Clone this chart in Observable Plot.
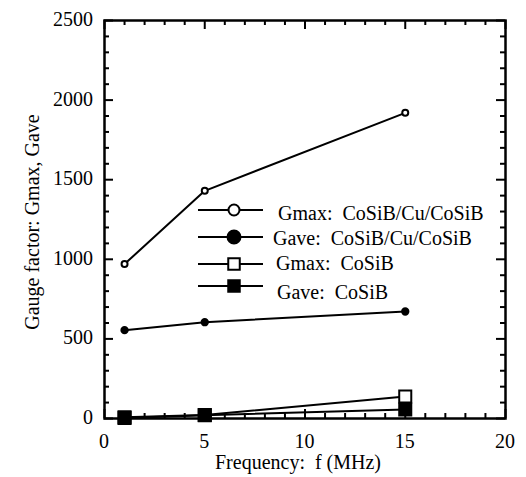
<!DOCTYPE html>
<html>
<head>
<meta charset="utf-8">
<script src="https://cdn.jsdelivr.net/npm/d3@7"></script>
<script src="https://cdn.jsdelivr.net/npm/@observablehq/plot@0.6"></script>
<style>
  html, body { margin: 0; padding: 0; background: #fff; }
  svg text { font-family: "Liberation Serif" !important; }
</style>
</head>
<body>
<div id="wrap"></div>
<script>
// ---- data ----
const frequency = [1, 5, 15];
const gmaxCoSiBCuCoSiB = [970, 1430, 1920];
const gaveCoSiBCuCoSiB = [555, 605, 672];
const gmaxCoSiB = [8, 22, 138];
const gaveCoSiB = [3, 20, 57];

const seriesNames = [
  "Gmax:  CoSiB/Cu/CoSiB",
  "Gave:  CoSiB/Cu/CoSiB",
  "Gmax:  CoSiB",
  "Gave:  CoSiB"
];
const seriesValues = [gmaxCoSiBCuCoSiB, gaveCoSiBCuCoSiB, gmaxCoSiB, gaveCoSiB];
const seriesSymbol = ["circle", "circle", "square", "square"];
const seriesFilled = [false, true, false, true];

const xTicks = [0, 5, 10, 15, 20];
const yTicks = [0, 500, 1000, 1500, 2000, 2500];
const xMinor = d3.range(0, 21, 1).filter(d => d % 5 !== 0);
const yMinor = d3.range(0, 2501, 100).filter(d => d % 500 !== 0);

const xTitle = "Frequency:  f (MHz)";
const yTitle = "Gauge factor: Gmax, Gave";

// build tidy table
const rows = [];
seriesNames.forEach((name, i) => {
  frequency.forEach((f, j) => rows.push({
    series: name, f, g: seriesValues[i][j],
    symbol: seriesSymbol[i], filled: seriesFilled[i]
  }));
});

const FONT = "Liberation Serif";
const W = 526, H = 477;
const mL = 104, mR = 21, mT = 20, mB = 59;
const fw = W - mL - mR, fh = H - mT - mB;
const major = 9, minor = 5;

const circleRows = rows.filter(d => d.symbol === "circle");
const squareRows = rows.filter(d => d.symbol === "square");

const chart = Plot.plot({
  width: W, height: H,
  marginLeft: mL, marginRight: mR, marginTop: mT, marginBottom: mB,
  x: { domain: [0, 20], axis: null },
  y: { domain: [0, 2500], axis: null },
  marks: [
    // inward ticks
    Plot.tickX(xTicks, { x: d => d, insetTop: fh - major, strokeWidth: 2 }),
    Plot.tickX(xTicks, { x: d => d, insetBottom: fh - major, strokeWidth: 2 }),
    Plot.tickX(xMinor, { x: d => d, insetTop: fh - minor, strokeWidth: 2 }),
    Plot.tickX(xMinor, { x: d => d, insetBottom: fh - minor, strokeWidth: 2 }),
    Plot.tickY(yTicks, { y: d => d, insetRight: fw - major, strokeWidth: 2 }),
    Plot.tickY(yTicks, { y: d => d, insetLeft: fw - major, strokeWidth: 2 }),
    Plot.tickY(yMinor, { y: d => d, insetRight: fw - minor, strokeWidth: 2 }),
    Plot.tickY(yMinor, { y: d => d, insetLeft: fw - minor, strokeWidth: 2 }),
    Plot.frame({ stroke: "#000", strokeWidth: 2.5 }),
    // data
    Plot.line(rows, { x: "f", y: "g", z: "series", stroke: "#000", strokeWidth: 2 }),
    Plot.dot(circleRows, { x: "f", y: "g", symbol: "circle", r: d => d.filled ? 7 : 6.3,
      fill: d => d.filled ? "#000" : "#fff", stroke: "#000", strokeWidth: 2 }),
    Plot.dot(squareRows, { x: "f", y: "g", symbol: "square", r: 6.8,
      fill: d => d.filled ? "#000" : "#fff", stroke: "#000", strokeWidth: 2 })
  ]
});

const sx = chart.scale("x"), sy = chart.scale("y");
const svg = d3.select(chart);
const txt = svg.append("g");

function addText(parent, x, y, anchor, s, dy) {
  const t = parent.append("text").attr("x", x).attr("y", y).attr("dy", dy)
    .attr("text-anchor", anchor).attr("font-family", FONT).attr("font-size", 20)
    .attr("fill", "#000").text(s);
  t.node().style.setProperty("font-family", FONT, "important");
  t.node().style.setProperty("white-space", "pre");
  return t;
}

// tick labels via Plot's scales
xTicks.forEach(v => addText(txt, sx.apply(v), H - mB + 23, "middle", String(v), "0.35em"));
yTicks.forEach(v => addText(txt, mL - 11, sy.apply(v), "end", String(v), "0.3em"));
// titles
addText(txt, 298, H - 15, "middle", xTitle, "0.35em");
addText(txt, 0, 0, "middle", yTitle, "0.35em")
  .attr("transform", `translate(32, ${(mT + H - mB) / 2 + 3}) rotate(-90)`);

// ---- legend ----
const legendY = [210, 237, 264, 286];
const textX = [278, 273, 276, 277];
const textY = [213, 238, 263, 292];
const leg = svg.append("g");
seriesNames.forEach((name, i) => {
  const g = leg.append("g");
  g.append("line").attr("x1", 198).attr("x2", 263).attr("y1", legendY[i]).attr("y2", legendY[i])
    .attr("stroke", "#000").attr("stroke-width", 2);
  const fill = seriesFilled[i] ? "#000" : "#fff";
  if (seriesSymbol[i] === "circle") {
    g.append("circle").attr("cx", 234).attr("cy", legendY[i]).attr("r", seriesFilled[i] ? 6.5 : 5.5)
      .attr("fill", fill).attr("stroke", "#000").attr("stroke-width", 2);
  } else {
    const s = 11.5;
    g.append("rect").attr("x", 234 - s / 2).attr("y", legendY[i] - s / 2).attr("width", s).attr("height", s)
      .attr("fill", fill).attr("stroke", "#000").attr("stroke-width", 2);
  }
  addText(g, textX[i], textY[i], "start", name, "0.35em");
});

chart.setAttribute("font-family", FONT);
document.getElementById("wrap").appendChild(chart);
</script>
</body>
</html>
